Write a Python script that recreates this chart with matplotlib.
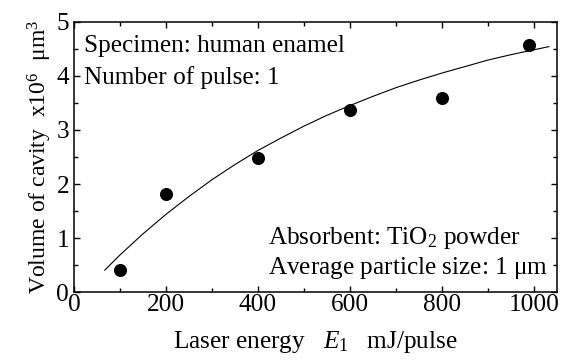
import matplotlib
matplotlib.use("Agg")
import matplotlib.pyplot as plt
from matplotlib.ticker import MultipleLocator

plt.rcParams['font.family'] = ['Liberation Serif', 'DejaVu Serif']
plt.rcParams['mathtext.fontset'] = 'custom'
plt.rcParams['mathtext.rm'] = 'Liberation Serif'
plt.rcParams['mathtext.it'] = 'Liberation Serif:italic'

# Measured data
energy = [100, 200, 400, 600, 800, 990]
volume = [0.42, 1.81, 2.49, 3.37, 3.59, 4.57]

# Fitted curve
curve_x = [67, 100, 150, 200, 250, 300, 350, 400, 450, 500, 550,
           600, 650, 700, 750, 800, 850, 900, 950, 1000, 1033]
curve_y = [0.41, 0.69, 1.08, 1.44, 1.77, 2.08, 2.36, 2.62, 2.85, 3.07, 3.27,
           3.45, 3.62, 3.78, 3.92, 4.05, 4.17, 4.29, 4.39, 4.48, 4.54]

x_ticks = [0, 200, 400, 600, 800, 1000]
y_ticks = [0, 1, 2, 3, 4, 5]

FS = 18.2

fig = plt.figure(figsize=(5.63, 3.6), dpi=100)
ax = fig.add_axes([0.1314, 0.188, 0.8574, 0.7517])

ax.plot(curve_x, curve_y, color='black', lw=0.8)
ax.plot(energy, volume, 'o', color='black', markersize=8.4)

ax.set_xlim(0, 1050)
ax.set_ylim(0, 5)
ax.set_xticks(x_ticks)
ax.set_yticks(y_ticks)
ax.xaxis.set_minor_locator(MultipleLocator(100))
ax.yaxis.set_minor_locator(MultipleLocator(0.5))
ax.tick_params(which='both', direction='in', top=True, right=True, labelsize=FS, width=1.0)
ax.tick_params(which='major', length=4)
ax.tick_params(which='minor', length=3)
ax.tick_params(axis='x', pad=1.5)
ax.tick_params(axis='y', pad=3.5)
for s in ax.spines.values():
    s.set_linewidth(1.1)

ax.set_xlabel(r'Laser energy   $E_{\mathregular{1}}$   mJ/pulse', fontsize=FS, labelpad=9)
ax.set_ylabel(r'Volume of cavity  x10$^{\mathregular{6}}$  $\mathregular{\mu m}^{\mathregular{3}}$', fontsize=17, labelpad=2)

ax.text(0.021, 0.91, 'Specimen: human enamel', transform=ax.transAxes, fontsize=FS, va='center', ha='left')
ax.text(0.021, 0.795, 'Number of pulse: 1', transform=ax.transAxes, fontsize=FS, va='center', ha='left')
ax.text(0.402, 0.20, r'Absorbent: TiO$_{\mathregular{2}}$ powder', transform=ax.transAxes, fontsize=FS, va='center', ha='left')
ax.text(0.402, 0.09, r'Average particle size: 1 $\mathregular{\mu m}$', transform=ax.transAxes, fontsize=FS, va='center', ha='left')

fig.savefig('out.png', dpi=100)
